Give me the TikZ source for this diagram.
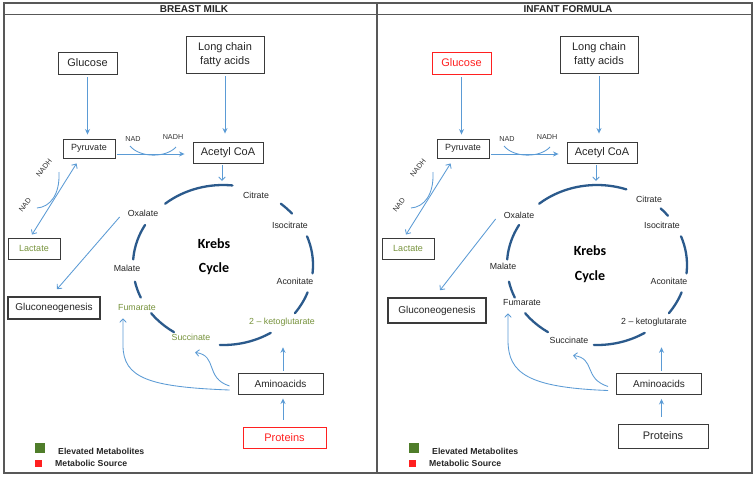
\documentclass[tikz,border=0pt]{standalone}
\usepackage{fontspec}
\setmainfont{Liberation Sans}
\newfontfamily\calib{Carlito}
\usetikzlibrary{arrows.meta}
\definecolor{arrblue}{HTML}{5B9BD5}
\definecolor{cycblue}{HTML}{2B5A8C}
\definecolor{metgreen}{HTML}{77933C}
\definecolor{leggreen}{HTML}{4F7D2A}
\definecolor{srcred}{HTML}{FF2020}
\definecolor{framegray}{HTML}{585858}
\definecolor{boxgray}{HTML}{3A3A3A}
\tikzset{
  box/.style={draw=boxgray, line width=0.9pt, inner sep=1pt, align=center, text=black!85, font=\fontsize{11}{14}\selectfont},
  srcbox/.style={box, draw=srcred, text=srcred},
  lab/.style={inner sep=1pt, font=\fontsize{8.8}{10}\selectfont, text=black!85},
  cof/.style={inner sep=0.5pt, font=\fontsize{7.2}{8}\selectfont, text=black!80},
  bluethin/.style={draw=arrblue, line width=0.85pt},
  arr/.style={draw=arrblue, line width=1pt, -{Stealth[length=5.5pt,width=5pt]}},
  tarr/.style={bluethin, -{Straight Barb[length=3.5pt,width=6.5pt]}},
  darr/.style={bluethin, {Straight Barb[length=3.5pt,width=6.5pt]}-{Straight Barb[length=3.5pt,width=6.5pt]}},
  cycseg/.style={draw=cycblue, line width=2.3pt, line cap=round},
  legtext/.style={anchor=west, inner sep=0pt, font=\bfseries\fontsize{8.7}{10}\selectfont, text=black!85},
  titletext/.style={inner sep=0pt, font=\bfseries\fontsize{10}{12}\selectfont, text=black!85},
  krebstext/.style={inner sep=0pt, font=\calib\bfseries\fontsize{14}{16}\selectfont},
}
% #1 shift, #2 prefix, #3 glucose style, #4 proteins style, #5 metabolite colour, #6 title, #7 panel settings
\newcommand\krebspanel[7]{%
\begin{scope}[xshift=#1, name prefix=#2-]
  #7
  \node[titletext] (title) at (194,9) {#6};
  % boxes
  \node[#3, minimum width=59pt, minimum height=22pt] (glucose) at (87.5,63) {Glucose};
  \node[box, minimum width=78pt, minimum height=37pt] (lcfa) at (225,54.5) {Long chain\\fatty acids};
  \node[box, minimum width=52pt, minimum height=19pt, font=\fontsize{9}{10}\selectfont] (pyruvate) at (89,148.5) {Pyruvate};
  \node[box, minimum width=70pt, minimum height=21pt] (acetyl) at (228,152.5) {Acetyl CoA};
  \node[box, minimum width=52pt, minimum height=21pt, font=\fontsize{9}{10}\selectfont, text=metgreen] (lactate) at (34,248.5) {Lactate};
  \node[box, line width=1.6pt, glucosz, font=\fontsize{10}{12}\selectfont] (gluco) at (pgluco) {Gluconeogenesis};
  \node[box, minimum width=85pt, minimum height=21pt, font=\fontsize{10}{12}\selectfont] (amino) at (pamino) {Aminoacids};
  \node[#4, protsz] (proteins) at (pprot) {Proteins};
  % cofactors
  \node[cof] (nadA) at (133,139) {NAD};
  \node[cof] (nadhA) at (173,137) {NADH};
  \node[cof, rotate=52] (nadhB) at (44,168) {NADH};
  \node[cof, rotate=52] (nadB) at (25,205) {NAD};
  % cycle labels
  \node[lab] (citrate) at (pcit) {Citrate};
  \node[lab] (isocit) at (piso) {Isocitrate};
  \node[lab] (aconit) at (pacon) {Aconitate};
  \node[lab, text=#5] (keto) at (pketo) {2 – ketoglutarate};
  \node[lab, text=#5] (succ) at (psucc) {Succinate};
  \node[lab, text=#5] (fum) at (pfum) {Fumarate};
  \node[lab] (malate) at (pmal) {Malate};
  \node[lab] (oxal) at (poxal) {Oxalate};
  \node[krebstext] (krebs) at (pkrebs) {Krebs};
  \node[krebstext] (cycle) at (pcycle) {Cycle};
  % cycle arcs
  \foreach \a/\b in {-130/\topend, \cita/\citb, -21/6, 20/37, 58/92, 123/143, 156/168, 184/210}
    \draw[cycseg] plot[domain=\a:\b, samples=20, smooth] ({223+90*cos(\x)},{265+80*sin(\x)});
  % connectors
  \coordinate (ktop) at (222,181);
  \draw[arr, shorten <=3pt, shorten >=4pt] (glucose.south) -- (glucose.south |- pyruvate.north);
  \draw[arr, shorten <=3pt, shorten >=8pt] (lcfa.south) -- (lcfa.south |- acetyl.north);
  \draw[arr] ([xshift=2pt,yshift=-5.5pt]pyruvate.east) -- ([xshift=-8pt,yshift=-1.5pt]acetyl.west);
  \draw[tarr] ([xshift=-6pt,yshift=-2pt]acetyl.south) -- (ktop);
  \coordinate (cA1) at (130,146);
  \coordinate (cA2) at (176,147);
  \draw[bluethin] (cA1) .. controls (140,158) and (166,158) .. (cA2);
  \coordinate (cB1) at (37,208);
  \coordinate (cB2) at (59,172);
  \draw[bluethin] (cB1) .. controls (50,207) and (60,195) .. (cB2);
  \draw[darr] ([xshift=14pt,yshift=-5pt]pyruvate.south west) -- ([xshift=-2pt,yshift=3pt]lactate.north);
  \draw[tarr] ([xshift=-7pt,yshift=-4pt]oxal.west) -- ([xshift=3pt,yshift=7pt]gluco.north);
  \draw[arr] ([xshift=2.5pt,yshift=2pt]amino.north) -- ([xshift=2.5pt,yshift=-20pt]amino.north |- keto.south);
  \draw[arr] ([xshift=-1.5pt,yshift=7pt]proteins.north) -- ([xshift=2.5pt,yshift=-4pt]amino.south);
  \coordinate (ftip) at ([xshift=-14pt,yshift=-6pt]fum.south);
  \draw[tarr] ([xshift=-8pt,yshift=-6.5pt]amino.west) .. controls +(-80,-3) and +(0,33) .. ([yshift=-27pt]ftip) -- (ftip);
  \draw[tarr] ([xshift=-8pt,yshift=-2.5pt]amino.west) .. controls +(-25,-8) and +(23,3) .. ([xshift=4pt,yshift=-11pt]succ.south);
  % legend
  \node[fill=leggreen, minimum width=10pt, minimum height=10pt, inner sep=0pt] (sqg) at (40,448) {};
  \node[fill=srcred, minimum width=7pt, minimum height=7pt, inner sep=0pt] (sqr) at (38.5,463.5) {};
  \node[legtext] (leg1) at (58,451) {Elevated Metabolites};
  \node[legtext] (leg2) at (55,463.5) {Metabolic Source};
\end{scope}}
\begin{document}
\begin{tikzpicture}[x=1pt,y=-1pt]
\useasboundingbox (0,0) rectangle (755,477);
\fill[white] (0,0) rectangle (755,477);
\draw[framegray, line width=1.3pt] (4,3) rectangle (752,473);
\draw[framegray, line width=1.3pt] (4,14.5) -- (752,14.5);
\draw[framegray, line width=1.3pt] (377,3) -- (377,473);
\krebspanel{0pt}{L}{box}{srcbox}{metgreen}{BREAST MILK}{%
  \coordinate (pcit) at (256,195); \coordinate (piso) at (290,225);
  \coordinate (pacon) at (295,281); \coordinate (pketo) at (282,322);
  \coordinate (psucc) at (191,337); \coordinate (pfum) at (137,308);
  \coordinate (pmal) at (127,268); \coordinate (poxal) at (143,213);
  \coordinate (pkrebs) at (214,244); \coordinate (pcycle) at (214,269);
  \coordinate (pgluco) at (54,308); \coordinate (pamino) at (280.5,383.5);
  \coordinate (pprot) at (284.5,437.5);
  \tikzset{glucosz/.style={minimum width=92pt, minimum height=22pt},
           protsz/.style={minimum width=83pt, minimum height=21pt}}%
  \def\topend{-84}\def\cita{-50}\def\citb{-40}}
\krebspanel{374pt}{R}{srcbox}{box}{black!85}{INFANT FORMULA}{%
  \coordinate (pcit) at (275,199); \coordinate (piso) at (288,225);
  \coordinate (pacon) at (295,281); \coordinate (pketo) at (280,322);
  \coordinate (psucc) at (195,340); \coordinate (pfum) at (148,303);
  \coordinate (pmal) at (129,266); \coordinate (poxal) at (145,215);
  \coordinate (pkrebs) at (216,251); \coordinate (pcycle) at (216,277);
  \coordinate (pgluco) at (63,310.5); \coordinate (pamino) at (285,384);
  \coordinate (pprot) at (289,436);
  \tikzset{glucosz/.style={minimum width=98pt, minimum height=25pt},
           protsz/.style={minimum width=90pt, minimum height=24pt}}%
  \def\topend{-71}\def\cita{-45}\def\citb{-38}}
\end{tikzpicture}
\end{document}
